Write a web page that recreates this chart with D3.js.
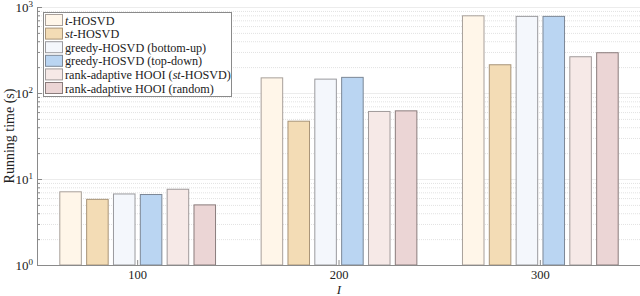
<!DOCTYPE html>
<html>
<head>
<meta charset="utf-8">
<script src="https://cdn.jsdelivr.net/npm/d3@7"></script>
<style>
  body { margin: 0; background: #fff; }
  text { font-family: "Liberation Serif", "DejaVu Serif", serif; fill: #222; }
</style>
</head>
<body>
<svg id="chart" width="640" height="296"></svg>
<script>
const sizes = [100, 200, 300];
const methods = [
    "t-HOSVD",
    "st-HOSVD",
    "greedy-HOSVD (bottom-up)",
    "greedy-HOSVD (top-down)",
    "rank-adaptive HOOI (st-HOSVD)",
    "rank-adaptive HOOI (random)"
];
// running times (s), one array per method, indexed like sizes
const tHosvd = [7.1, 150, 790];
const stHosvd = [5.8, 47, 213];
const greedyBottomUp = [6.7, 145, 778];
const greedyTopDown = [6.6, 152, 778];
const hooiSt = [7.6, 61, 264];
const hooiRandom = [5.0, 62, 294];
const seriesValues = [tHosvd, stHosvd, greedyBottomUp, greedyTopDown, hooiSt, hooiRandom];
const yTicks = [1, 10, 100, 1000];

const fills = ["#fff6e9", "#f3dcb5", "#f4f7fc", "#bad5f2", "#f6e9e7", "#ebd5d5"];
const strokes = ["#a8a09a", "#a89478", "#9a9a9e", "#7c8796", "#a09a9a", "#8a7c7c"];

const svg = d3.select("#chart");
const plotLeft = 37, plotRight = 641, plotTop = 7, plotBottom = 265;

const x = d3.scaleLinear().domain([0.5, 3.5]).range([plotLeft, plotRight]);
const y = d3.scaleLog().domain([1, 1000]).range([plotBottom, plotTop]);
const step = x(2) - x(1);
const barStep = step * 0.1333;
const barWidth = step * 0.107;

// grid: minor dotted, major solid
const minor = [];
for (let e = 0; e < 3; e++) {
    for (let k = 2; k <= 9; k++) minor.push(k * 10 ** e);
}
svg.append("g").selectAll("line")
    .data(minor)
    .join("line")
    .attr("x1", plotLeft).attr("x2", plotRight)
    .attr("y1", d => y(d) + 0.5).attr("y2", d => y(d) + 0.5)
    .attr("stroke", "#e2e2e2")
    .attr("stroke-dasharray", "1,1");

svg.append("g").selectAll("line")
    .data(yTicks.slice(1))
    .join("line")
    .attr("x1", plotLeft).attr("x2", plotRight)
    .attr("y1", d => y(d) + 0.5).attr("y2", d => y(d) + 0.5)
    .attr("stroke", "#ececec");

// bars
const barData = [];
seriesValues.forEach((vals, s) => {
    vals.forEach((v, g) => barData.push({ s: s, g: g, v: v }));
});

svg.append("g").selectAll("rect")
    .data(barData)
    .join("rect")
    .attr("x", d => x(d.g + 1) + (d.s - 2.5) * barStep - barWidth / 2)
    .attr("y", d => y(d.v))
    .attr("width", barWidth)
    .attr("height", d => y(1) - y(d.v))
    .attr("fill", d => fills[d.s])
    .attr("stroke", d => strokes[d.s])
    .attr("stroke-width", 1);

// axes
svg.append("line")
    .attr("x1", plotLeft + 0.5).attr("x2", plotLeft + 0.5)
    .attr("y1", plotTop).attr("y2", plotBottom)
    .attr("stroke", "#8a8a8a");
svg.append("line")
    .attr("x1", plotLeft).attr("x2", plotRight)
    .attr("y1", plotBottom + 0.5).attr("y2", plotBottom + 0.5)
    .attr("stroke", "#8a8a8a");

// y ticks (inward)
svg.append("g").selectAll("line")
    .data(yTicks)
    .join("line")
    .attr("x1", plotLeft).attr("x2", plotLeft + 5)
    .attr("y1", d => y(d) + 0.5).attr("y2", d => y(d) + 0.5)
    .attr("stroke", "#8a8a8a");
svg.append("g").selectAll("line")
    .data(minor)
    .join("line")
    .attr("x1", plotLeft).attr("x2", plotLeft + 3)
    .attr("y1", d => y(d) + 0.5).attr("y2", d => y(d) + 0.5)
    .attr("stroke", "#8a8a8a");

const yLabels = svg.append("g").selectAll("text")
    .data(yTicks)
    .join("text")
    .attr("x", plotLeft - 4)
    .attr("y", d => y(d) + 5)
    .attr("text-anchor", "end")
    .style("font-size", "13px");
yLabels.append("tspan").text("10");
yLabels.append("tspan")
    .attr("dy", -5)
    .style("font-size", "9px")
    .text(d => Math.round(Math.log10(d)));

// x ticks (inward)
svg.append("g").selectAll("line")
    .data(sizes)
    .join("line")
    .attr("x1", (d, i) => x(i + 1)).attr("x2", (d, i) => x(i + 1))
    .attr("y1", plotBottom).attr("y2", plotBottom - 5)
    .attr("stroke", "#8a8a8a");
svg.append("g").selectAll("text")
    .data(sizes)
    .join("text")
    .attr("x", (d, i) => x(i + 1))
    .attr("y", plotBottom + 14)
    .attr("text-anchor", "middle")
    .style("font-size", "12.5px")
    .text(d => d);

svg.append("text")
    .attr("x", x(2))
    .attr("y", 294)
    .attr("text-anchor", "middle")
    .style("font-size", "13px")
    .style("font-style", "italic")
    .text("I");

svg.append("text")
    .attr("transform", "translate(14,136) rotate(-90)")
    .attr("text-anchor", "middle")
    .style("font-size", "14px")
    .text("Running time (s)");

// legend
const legend = svg.append("g").attr("transform", "translate(43.5,12.5)");
legend.append("rect")
    .attr("width", 188).attr("height", 84)
    .attr("fill", "#fff")
    .attr("stroke", "#8a8a8a");
const rows = legend.selectAll(".row")
    .data(methods)
    .join("g")
    .attr("class", "row")
    .attr("transform", (d, i) => `translate(2,${2 + i * 13.6})`);
rows.append("rect")
    .attr("width", 17).attr("height", 11)
    .attr("fill", (d, i) => fills[i])
    .attr("stroke", (d, i) => strokes[i]);
const labels = rows.append("text")
    .attr("x", 19.5)
    .attr("y", 10)
    .style("font-size", "12.2px");
labels.each(function (d) {
    const t = d3.select(this);
    const m = d.match(/^(.*?)(s?t)(-HOSVD.*)$/);
    if (m) {
        t.append("tspan").text(m[1]);
        t.append("tspan").style("font-style", "italic").text(m[2]);
        t.append("tspan").text(m[3]);
    } else {
        t.text(d);
    }
});
</script>
</body>
</html>
